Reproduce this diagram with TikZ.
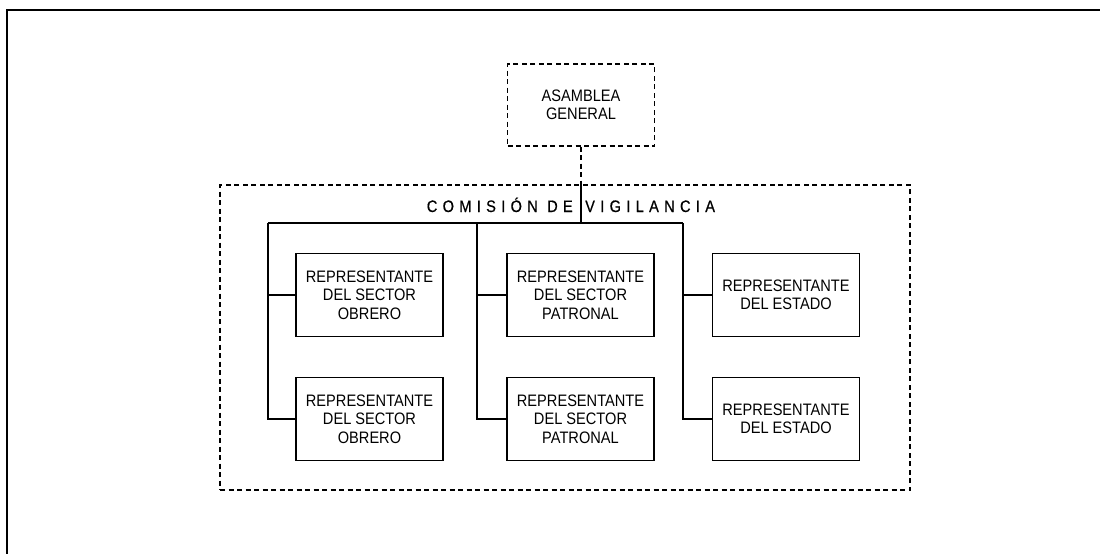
\documentclass[tikz,border=0pt]{standalone}
\usepackage{fontspec}
\setmainfont{Liberation Sans}[FakeStretch=0.88]
\newfontfamily\titlefont{Liberation Sans}[FakeStretch=0.88, LetterSpace=32, FakeBold=0.6]
\usetikzlibrary{positioning}

\tikzset{
  repbox/.style={draw, line width=1.2pt, minimum width=147pt, minimum height=83pt,
    inner sep=0pt, align=center, font=\fontsize{16.6}{18.5}\selectfont},
  dashbox/.style={draw, line width=1.4pt, dash pattern=on 5pt off 3.5pt, inner sep=0pt},
  conn/.style={line width=1.8pt},
  titulo/.style={inner sep=0pt, font=\titlefont\fontsize{16.6}{18}\selectfont}
}

\begin{document}
\begin{tikzpicture}[x=1pt,y=-1pt]
			\useasboundingbox (0,0) rectangle (1100,554);
			
			% marco
			\draw [line width=2pt] (1100,10) -- (7,10) -- (7,554);
			
			\node [dashbox, minimum width=147pt, minimum height=82pt, align=center,
			  font=\fontsize{16.6}{18.5}\selectfont] (asamblea) at (581,105) {ASAMBLEA\\GENERAL};
			\node [dashbox, minimum width=690pt, minimum height=305pt] (comision) at (565,337.5) {};
			
			\node [titulo, anchor=base east] (tituloA) at (573,212) {COMISIÓN DE};
			\node [titulo, anchor=base west] (tituloB) at (585,212) {VIGILANCIA};
			
			% representantes
			\node [repbox] (obreroA) at (369.5,295) {REPRESENTANTE\\DEL SECTOR\\OBRERO};
			\node [repbox] (obreroB) at (369.5,419) {REPRESENTANTE\\DEL SECTOR\\OBRERO};
			\node [repbox] (patronA) at (580.5,295) {REPRESENTANTE\\DEL SECTOR\\PATRONAL};
			\node [repbox] (patronB) at (580.5,419) {REPRESENTANTE\\DEL SECTOR\\PATRONAL};
			\node [repbox] (estadoA) at (786,295) {REPRESENTANTE\\DEL ESTADO};
			\node [repbox] (estadoB) at (786,419) {REPRESENTANTE\\DEL ESTADO};
			
			\coordinate (b1) at (268,223);
			\coordinate (b2) at (477,223);
			\coordinate (b3) at (683,223);
			
			\draw [dashbox] (asamblea.south) -- (asamblea.south |- comision.north);
			\draw [conn] (asamblea.south |- comision.north) -- (asamblea.south |- b1);
			\draw [conn] (b1) -- (b3);
			
			\draw [conn] (b1) |- (obreroB.west);
			\draw [conn] (b1 |- obreroA.west) -- (obreroA.west);
			\draw [conn] (b2) |- (patronB.west);
			\draw [conn] (b2 |- patronA.west) -- (patronA.west);
			\draw [conn] (b3) |- (estadoB.west);
			\draw [conn] (b3 |- estadoA.west) -- (estadoA.west);
		\end{tikzpicture}
\end{document}
